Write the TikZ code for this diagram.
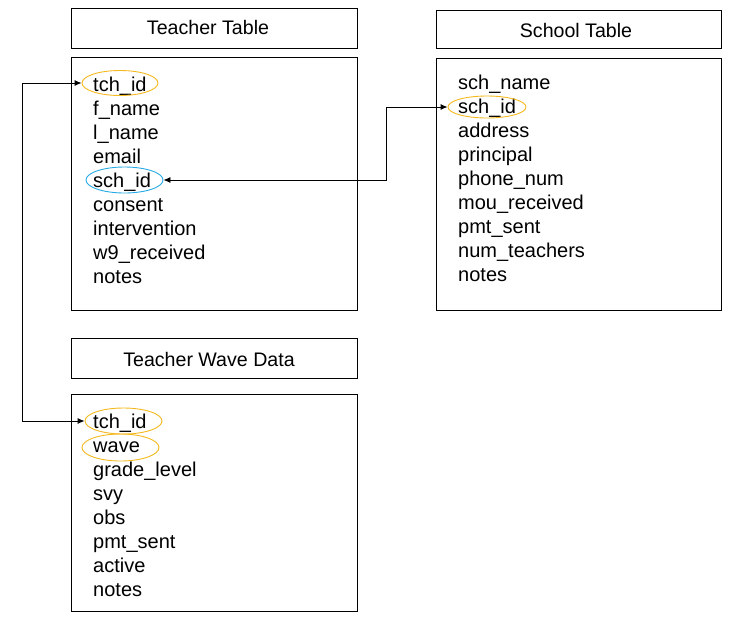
\documentclass[tikz,border=0pt]{standalone}
\usepackage{fontspec}
\setmainfont{Liberation Sans}
\usetikzlibrary{arrows.meta,shapes.geometric}
\definecolor{keyorange}{RGB}{245,185,30}
\definecolor{keyblue}{RGB}{40,170,230}
\tikzset{
  box/.style={draw=black, line width=0.9pt},
  hdr/.style={font=\fontsize{19.6}{22}\selectfont, anchor=center, inner sep=0pt, text height=14pt, text depth=4pt, yshift=-1.5pt},
  fld/.style={font=\fontsize{20}{22}\selectfont, anchor=west, inner sep=0pt, text height=14pt, text depth=4pt, yshift=-1.5pt},
  keyo/.style={draw=keyorange, ellipse, line width=0.9pt, inner sep=0pt},
  keyb/.style={draw=keyblue, ellipse, line width=0.9pt, inner sep=0pt},
  link/.style={line width=0.9pt, {Latex[length=7pt,width=6pt]}-{Latex[length=7pt,width=6pt]}}
}
\begin{document}
\begin{tikzpicture}[x=1pt,y=-1pt]
\useasboundingbox (0,0) rectangle (736,622);
% boxes
\draw[box] (71.5,8.5) rectangle (357.5,48);
\draw[box] (71.5,57.5) rectangle (357.5,310.5);
\draw[box] (436.5,10.5) rectangle (721.5,48);
\draw[box] (436.5,58.5) rectangle (721.5,310.5);
\draw[box] (71.5,338.5) rectangle (357.5,378);
\draw[box] (71.5,394.5) rectangle (357.5,611.5);
% headers
\node[hdr] (h1) at (208,28) {Teacher Table};
\node[hdr] (h2) at (576,31) {School Table};
\node[hdr] (h3) at (209,360) {Teacher Wave Data};
% teacher fields
\node[fld] (t1) at (93,85) {tch\_id};
\node[fld] (t2) at (93,109) {f\_name};
\node[fld] (t3) at (93,133) {l\_name};
\node[fld] (t4) at (93,157) {email};
\node[fld] (t5) at (93,181) {sch\_id};
\node[fld] (t6) at (93,205) {consent};
\node[fld] (t7) at (93,229) {intervention};
\node[fld] (t8) at (93,253) {w9\_received};
\node[fld] (t9) at (93,277) {notes};
% school fields
\node[fld] (s1) at (458,83) {sch\_name};
\node[fld] (s2) at (458,107) {sch\_id};
\node[fld] (s3) at (458,131) {address};
\node[fld] (s4) at (458,155) {principal};
\node[fld] (s5) at (458,179) {phone\_num};
\node[fld] (s6) at (458,203) {mou\_received};
\node[fld] (s7) at (458,227) {pmt\_sent};
\node[fld] (s8) at (458,251) {num\_teachers};
\node[fld] (s9) at (458,275) {notes};
% wave fields
\node[fld] (w1) at (93,422) {tch\_id};
\node[fld] (w2) at (93,446) {wave};
\node[fld] (w3) at (93,470) {grade\_level};
\node[fld] (w4) at (93,494) {svy};
\node[fld] (w5) at (93,518) {obs};
\node[fld] (w6) at (93,542) {pmt\_sent};
\node[fld] (w7) at (93,566) {active};
\node[fld] (w8) at (93,590) {notes};
% key ellipses
\node[keyo, minimum width=76pt, minimum height=25pt] (ttch) at (120,83) {};
\node[keyb, minimum width=77pt, minimum height=26pt] (tsch) at (124.5,180) {};
\node[keyo, minimum width=78pt, minimum height=22pt] (ssch) at (487,107) {};
\node[keyo, minimum width=77pt, minimum height=26pt] (wtch) at (123.5,421) {};
\node[keyo, minimum width=77pt, minimum height=27pt] (wwav) at (120.5,447.5) {};
% connectors
\coordinate (lx) at (22,0);
\coordinate (mx) at (386,0);
\draw[link] (wtch.west) -- (lx |- wtch.west) |- (ttch.west);
\draw[link] (tsch.east) -| (mx |- ssch.west) -- (ssch.west);
\end{tikzpicture}
\end{document}
